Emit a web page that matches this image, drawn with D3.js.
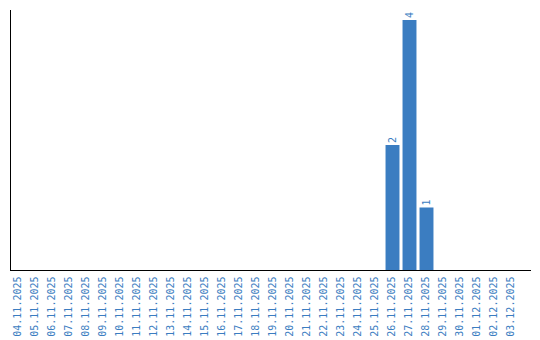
<!DOCTYPE html>
<html><head><meta charset="utf-8">
<script src="https://cdn.jsdelivr.net/npm/d3@7"></script>
<style>body{margin:0;background:#fff}svg{display:block}</style>
</head><body>
<svg id="c" width="540" height="340"></svg>
<script>
const categories = ["04.11.2025","05.11.2025","06.11.2025","07.11.2025","08.11.2025","09.11.2025","10.11.2025","11.11.2025","12.11.2025","13.11.2025","14.11.2025","15.11.2025","16.11.2025","17.11.2025","18.11.2025","19.11.2025","20.11.2025","21.11.2025","22.11.2025","23.11.2025","24.11.2025","25.11.2025","26.11.2025","27.11.2025","28.11.2025","29.11.2025","30.11.2025","01.12.2025","02.12.2025","03.12.2025"];
const values = [0,0,0,0,0,0,0,0,0,0,0,0,0,0,0,0,0,0,0,0,0,0,2,4,1,0,0,0,0,0];

const svg = d3.select("#c");
const color = "#3b7dc1";
const font = "'DejaVu Sans Mono', monospace";
const x = d3.scaleBand().domain(categories).range([10, 520]).paddingInner(0.18).paddingOuter(0.09);
const y = d3.scaleLinear().domain([0, 4]).range([270, 20]);

const data = categories.map((c,i)=>({c, v: values[i]})).filter(d=>d.v>0);

svg.selectAll("rect.bar").data(data)
  .enter().append("rect").attr("class","bar")
  .attr("x", d=>x(d.c)).attr("width", x.bandwidth())
  .attr("y", d=>y(d.v)).attr("height", d=>y(0)-y(d.v))
  .attr("fill", color);

svg.selectAll("text.val").data(data)
  .enter().append("text").attr("class","val")
  .attr("transform", d=>`translate(${x(d.c)+x.bandwidth()/2},${y(d.v)-2}) rotate(-90)`)
  .attr("dy","0.35em")
  .attr("font-family", font).attr("font-size","10px")
  .attr("fill", color).text(d=>d.v);

// axes lines
svg.append("line").attr("x1",10.5).attr("x2",10.5).attr("y1",10).attr("y2",270.5).attr("stroke","#000");
svg.append("line").attr("x1",10).attr("x2",531).attr("y1",270.5).attr("y2",270.5).attr("stroke","#000");

const xAxis = svg.append("g").attr("transform","translate(0,270)")
  .call(d3.axisBottom(x).tickSize(0).tickPadding(0));
xAxis.select(".domain").remove();
xAxis.selectAll("text")
  .attr("font-family", font).attr("font-size","10px")
  .attr("fill", color)
  .attr("text-anchor","end")
  .attr("transform","translate(-1.5,6.5) rotate(-90)")
  .attr("x",0).attr("y",0).attr("dy","0.35em");
</script>
</body></html>
